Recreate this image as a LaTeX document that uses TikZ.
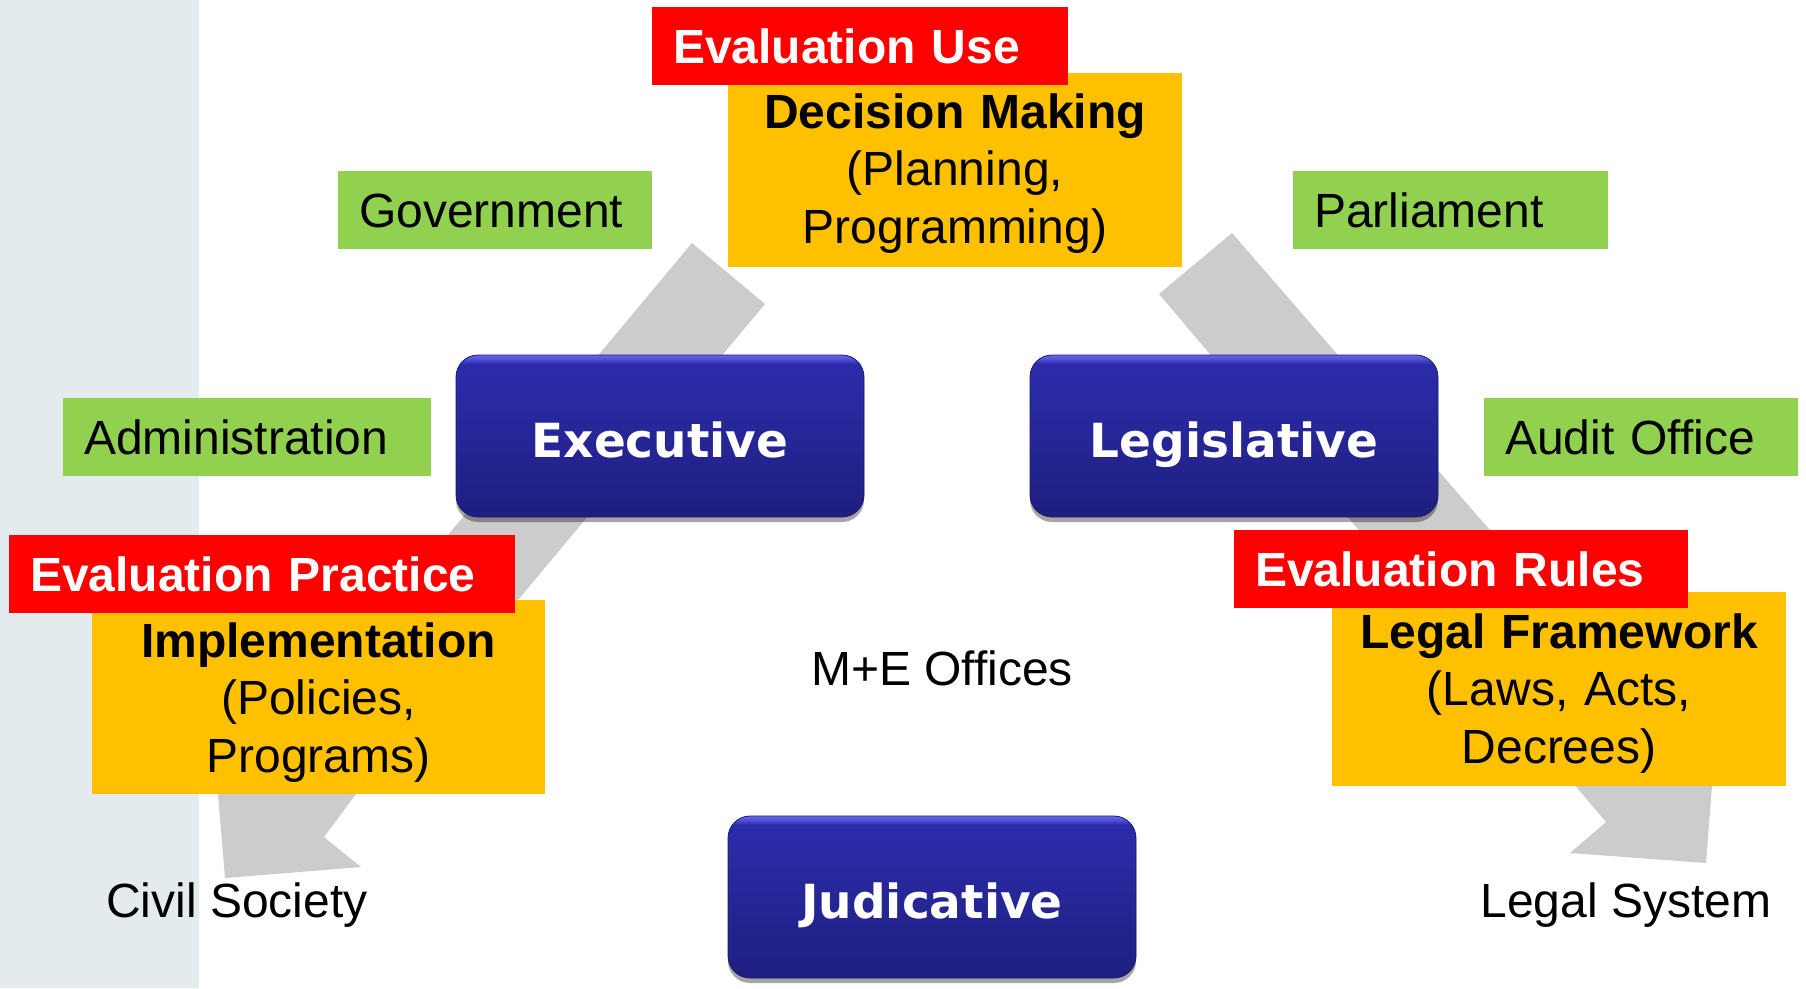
\documentclass[tikz,border=0pt]{standalone}
\usepackage{fontspec}
\setmainfont{Liberation Sans}
\newfontfamily\boxfont{DejaVu Sans}
\usetikzlibrary{shadows}
\definecolor{bandcol}{HTML}{E3EBEF}
\definecolor{arrowgray}{HTML}{CCCCCC}
\definecolor{greencol}{HTML}{92D050}
\definecolor{orangecol}{HTML}{FFC000}
\definecolor{redcol}{HTML}{FF0000}
\definecolor{blueline}{HTML}{1A1A6E}
\pgfdeclareverticalshading{blueshade}{100bp}{rgb(0bp)=(0.12,0.12,0.50); rgb(25bp)=(0.12,0.12,0.50); rgb(60bp)=(0.16,0.16,0.63); rgb(72.3bp)=(0.17,0.17,0.67); rgb(73.8bp)=(0.32,0.32,0.85); rgb(75bp)=(0.40,0.40,0.90); rgb(100bp)=(0.40,0.40,0.90)}
\begin{document}
\begin{tikzpicture}[x=1pt,y=-1pt,
  every node/.style={inner sep=0pt, outer sep=0pt},
  greenbox/.style={fill=greencol, anchor=north west, minimum height=78pt, inner xsep=21pt, text height=34.5pt, text depth=0pt, align=left, text width=#1-42pt, font=\fontsize{48}{57.5}\selectfont},
  redbox/.style={fill=redcol, text=white, anchor=north west, minimum height=78pt, inner xsep=21pt, text height=34.5pt, text depth=0pt, align=left, text width=#1-42pt, font=\bfseries\fontsize{48}{57.5}\selectfont},
  orangebox/.style={fill=orangecol, anchor=north west, minimum width=#1, minimum height=194pt},
  otext/.style={anchor=base, align=center, text width=440pt, font=\fontsize{48}{57.5}\selectfont},
  bluebox/.style={shade, shading=blueshade, draw=blueline, line width=0.8pt, rounded corners=22pt, minimum width=408pt, minimum height=162pt, text=white, text height=42pt, text depth=0pt, font=\boxfont\bfseries\fontsize{47}{56}\selectfont, drop shadow={shadow xshift=0pt, shadow yshift=-5pt, opacity=0.35, fill=black}},
  plain/.style={anchor=base, font=\fontsize{48}{57.5}\selectfont},
  bigarrow/.style={fill=arrowgray}
]
\useasboundingbox (0,0) rectangle (1806,988);
\fill[white] (0,0) rectangle (1806,988);
\fill[bandcol] (0,0) rectangle (199,988);

% big gray arrows
\fill[bigarrow] (692,243) -- (765,304) -- (356,794) -- (324,837) -- (361,867) -- (225,878) -- (218,795) -- (448,535) -- cycle;
\fill[bigarrow] (1232,233) -- (1159,294) -- (1606,822) -- (1570,853) -- (1706,863) -- (1712,786) -- cycle;

% orange boxes
\node[orangebox=454pt] (dmbox) at (728,73) {};
\node[orangebox=453pt] (imbox) at (92,600) {};
\node[orangebox=454pt] (lfbox) at (1332,592) {};
\node[otext] (dmtext) at (955,128) {\textbf{Decision Making}\\(Planning,\\Programming)};
\node[otext] (imtext) at (318.5,657) {\textbf{Implementation}\\(Policies,\\Programs)};
\node[otext] (lftext) at (1559,648) {\textbf{Legal Framework}\\(Laws, Acts,\\Decrees)};

% red boxes
\node[redbox=416pt] (evuse) at (652,7) {Evaluation Use};
\node[redbox=506pt] (evprac) at (9,535) {Evaluation Practice};
\node[redbox=454pt] (evrules) at (1234,530) {Evaluation Rules};

% green boxes
\node[greenbox=314pt] (gov) at (338,171) {Government};
\node[greenbox=315pt] (parl) at (1293,171) {Parliament};
\node[greenbox=368pt] (adm) at (63,398) {Administration};
\node[greenbox=314pt] (audit) at (1484,398) {Audit Office};

% blue boxes
\node[bluebox] (exec) at (660,436) {Executive};
\node[bluebox] (legis) at (1234,436) {Legislative};
\node[bluebox] (judi) at (932,897) {Judicative};

% plain texts
\node[plain] (me) at (942,685) {M+E Offices};
\node[plain] (civil) at (237,917) {Civil Society};
\node[plain] (legal) at (1626,917) {Legal System};
\end{tikzpicture}
\end{document}
